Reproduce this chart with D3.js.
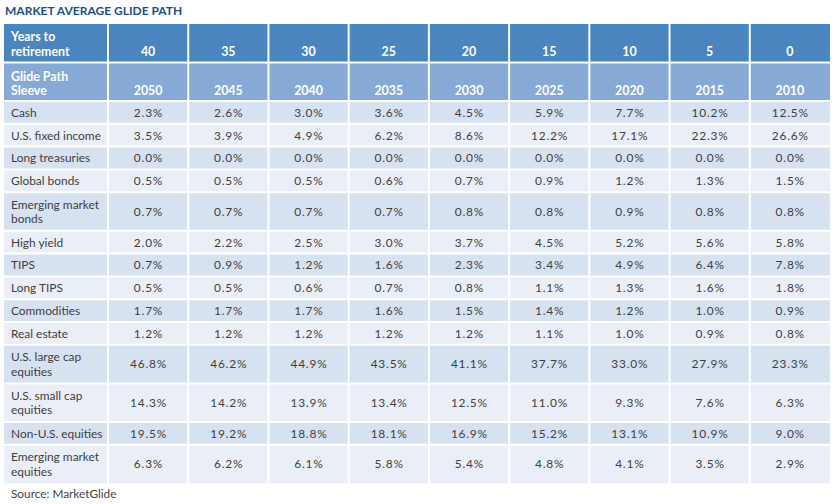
<!DOCTYPE html>
<html><head><meta charset="utf-8">
<script src="https://cdn.jsdelivr.net/npm/d3@7"></script>
<style>body{margin:0;background:#fff}svg{display:block}</style>
</head><body>
<script>
const title = "MARKET AVERAGE GLIDE PATH";
const source = "Source: MarketGlide";
const yearsToRetirement = ["40","35","30","25","20","15","10","5","0"];
const targetYears = ["2050","2045","2040","2035","2030","2025","2020","2015","2010"];
const headerLabels = [["Years to","retirement"],["Glide Path","Sleeve"]];
const sleeves = [
  ["Cash"],["U.S. fixed income"],["Long treasuries"],["Global bonds"],
  ["Emerging market","bonds"],["High yield"],["TIPS"],["Long TIPS"],
  ["Commodities"],["Real estate"],["U.S. large cap","equities"],
  ["U.S. small cap","equities"],["Non-U.S. equities"],["Emerging market","equities"]
];
const cash          = [2.3,2.6,3.0,3.6,4.5,5.9,7.7,10.2,12.5];
const usFixedIncome = [3.5,3.9,4.9,6.2,8.6,12.2,17.1,22.3,26.6];
const longTreasuries= [0.0,0.0,0.0,0.0,0.0,0.0,0.0,0.0,0.0];
const globalBonds   = [0.5,0.5,0.5,0.6,0.7,0.9,1.2,1.3,1.5];
const emBonds       = [0.7,0.7,0.7,0.7,0.8,0.8,0.9,0.8,0.8];
const highYield     = [2.0,2.2,2.5,3.0,3.7,4.5,5.2,5.6,5.8];
const tips          = [0.7,0.9,1.2,1.6,2.3,3.4,4.9,6.4,7.8];
const longTips      = [0.5,0.5,0.6,0.7,0.8,1.1,1.3,1.6,1.8];
const commodities   = [1.7,1.7,1.7,1.6,1.5,1.4,1.2,1.0,0.9];
const realEstate    = [1.2,1.2,1.2,1.2,1.2,1.1,1.0,0.9,0.8];
const usLargeCap    = [46.8,46.2,44.9,43.5,41.1,37.7,33.0,27.9,23.3];
const usSmallCap    = [14.3,14.2,13.9,13.4,12.5,11.0,9.3,7.6,6.3];
const nonUsEquities = [19.5,19.2,18.8,18.1,16.9,15.2,13.1,10.9,9.0];
const emEquities    = [6.3,6.2,6.1,5.8,5.4,4.8,4.1,3.5,2.9];
const values = [cash,usFixedIncome,longTreasuries,globalBonds,emBonds,highYield,tips,longTips,commodities,realEstate,usLargeCap,usSmallCap,nonUsEquities,emEquities];

const W = 835, H = 504;
const font = "Lato, 'Noto Sans', sans-serif";
const svg = d3.select("body").append("svg").attr("width", W).attr("height", H)
  .style("font-family", font);

const left = 4, firstColRight = 108, right = 830;
const x = d3.scaleBand().domain(d3.range(9)).range([firstColRight, right]);

const headTop = 24, headH = 38.5;
const singleH = 22.8, doubleH = 38.6;
let yCursor = headTop + 2 * headH;
const rows = sleeves.map((lab, i) => {
  const h = lab.length > 1 ? doubleH : singleH;
  const r = {lab, vals: values[i], top: yCursor, h, i};
  yCursor += h;
  return r;
});

const hdrColors = ["#4a85c0", "#86aad5"];
const rowColors = ["#d7e2f0", "#eaeff7"];
const txt = "#3e3e3e";
const hdrSize = 12.4, dataSize = 11.9;

svg.append("text").attr("x", 5).attr("y", 15).text(title)
  .attr("fill", "#1b4f8f").attr("font-weight", "bold").attr("font-size", 12);

[yearsToRetirement, targetYears].forEach((arr, k) => {
  const top = headTop + k * headH;
  const g = svg.append("g");
  g.append("rect").attr("x", left).attr("y", top).attr("width", right - left).attr("height", headH)
    .attr("fill", hdrColors[k]);
  const bl = top + headH - (k === 0 ? 7 : 6);
  headerLabels[k].forEach((t, j) => {
    g.append("text").attr("x", 11).attr("y", bl - (headerLabels[k].length - 1 - j) * 14.5)
      .text(t).attr("fill", "#fff").attr("font-weight", "bold").attr("font-size", hdrSize);
  });
  g.selectAll("text.c").data(arr).join("text").attr("class", "c")
    .attr("x", (d, i) => x(i) + x.bandwidth() / 2).attr("y", bl)
    .attr("text-anchor", "middle").text(d => d)
    .attr("fill", "#fff").attr("font-weight", "bold").attr("font-size", hdrSize);
});

const rg = svg.selectAll("g.row").data(rows).join("g").attr("class", "row");
rg.append("rect").attr("x", left).attr("y", d => d.top).attr("width", right - left)
  .attr("height", d => d.h).attr("fill", d => rowColors[d.i % 2]);
rg.each(function(d) {
  const g = d3.select(this);
  const c = d.top + d.h / 2;
  const n = d.lab.length;
  d.lab.forEach((t, j) => {
    g.append("text").attr("x", 11).attr("y", c + 4.3 + (j - (n - 1) / 2) * 14.2)
      .text(t).attr("fill", txt).attr("font-size", dataSize);
  });
  g.selectAll("text.v").data(d.vals).join("text").attr("class", "v")
    .attr("x", (v, i) => x(i) + x.bandwidth() / 2 + 0.4).attr("y", c + 4.3)
    .attr("text-anchor", "middle").text(v => v.toFixed(1) + "%")
    .attr("letter-spacing", 0.8)
    .attr("fill", txt).attr("font-size", dataSize);
});

const bottom = yCursor;
const gl = svg.append("g").attr("stroke", "#fff").attr("stroke-width", 2);
const vx = [firstColRight].concat(d3.range(1, 9).map(i => x(i)));
gl.selectAll("line.v").data(vx).join("line").attr("class", "v")
  .attr("x1", d => d).attr("x2", d => d).attr("y1", headTop).attr("y2", bottom);
const hy = [headTop + headH, headTop + 2 * headH].concat(rows.slice(1).map(r => r.top));
gl.selectAll("line.h").data(hy).join("line").attr("class", "h")
  .attr("x1", left).attr("x2", right).attr("y1", d => d).attr("y2", d => d);

svg.append("text").attr("x", 11).attr("y", bottom + 15).text(source)
  .attr("fill", "#444").attr("font-size", 11.8);
</script>
</body></html>
